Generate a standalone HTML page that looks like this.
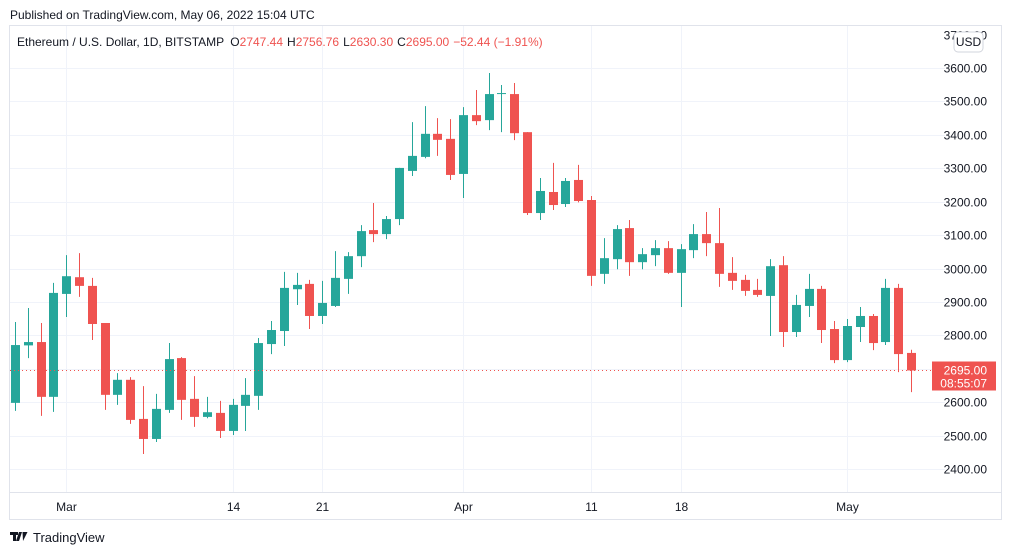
<!DOCTYPE html>
<html><head><meta charset="utf-8"><style>
body{margin:0;background:#fff;width:1012px;height:555px;overflow:hidden;font-family:"Liberation Sans",sans-serif}
svg{position:absolute;left:0;top:0}
</style></head><body>
<svg id="c" width="1012" height="555">
<text x="10" y="19" font-size="12" fill="#131722">Published on TradingView.com, May 06, 2022 15:04 UTC</text>
<rect x="9.5" y="25.5" width="992" height="494" fill="none" stroke="#e0e3eb"/>
<line x1="9.5" y1="492.5" x2="1001.5" y2="492.5" stroke="#e0e3eb"/>
<g id="grid"></g><g id="candles"></g>
<text x="17" y="46" font-size="12" fill="#131722">Ethereum / U.S. Dollar, 1D, BITSTAMP <tspan dx="3">O</tspan><tspan fill="#ef5350">2747.44</tspan><tspan dx="4">H</tspan><tspan fill="#ef5350">2756.76</tspan><tspan dx="4">L</tspan><tspan fill="#ef5350">2630.30</tspan><tspan dx="4">C</tspan><tspan fill="#ef5350">2695.00</tspan><tspan dx="4" fill="#ef5350">−52.44 (−1.91%)</tspan></text>
<rect x="954" y="32" width="29" height="20" rx="4" fill="#fff" stroke="#d1d4dc"/>
<text x="968.5" y="46" font-size="12" text-anchor="middle" fill="#131722">USD</text>
<g id="tv-logo"><path d="M10 532h8v3h-2v6h-3v-6h-3z M19 532h3l-3 9h-3z M22.5 532h5l-4.5 9" fill="#131722"/><text x="33" y="542" font-size="13" fill="#131722">TradingView</text></g>
</svg>
<script>
const dates=[];
const opens=[2598,2770,2780,2616,2924,2974,2948,2837,2622,2667,2550,2490,2577,2732,2610,2556,2568,2514,2589,2619,2774,2813,2938,2954,2858,2888,2969,3037,3115,3103,3148,3292,3334,3403,3388,3283,3459,3444,3522,3522,3408,3166,3229,3193,3265,3205,2984,3028,3121,3019,3040,3061,2987,3055,3103,3076,2987,2966,2936,2918,3010,2810,2888,2939,2819,2726,2825,2858,2780,2942,2747.44];
const highs=[2840,2882,2837,2957,3040,3046,2972,2837,2687,2675,2648,2625,2777,2735,2678,2616,2604,2610,2672,2792,2843,2990,2987,2966,2963,3052,3049,3130,3196,3157,3301,3438,3486,3450,3447,3483,3534,3585,3549,3555,3408,3271,3316,3271,3310,3217,3091,3130,3145,3061,3085,3082,3073,3133,3169,3181,3034,2981,2969,3028,3037,2921,2984,2948,2843,2849,2885,2864,2969,2954,2756.76];
const lows=[2574,2732,2559,2571,2855,2915,2786,2577,2592,2535,2445,2481,2568,2547,2526,2552,2493,2502,2514,2577,2744,2768,2891,2819,2834,2885,2924,3004,3079,3088,3130,3277,3330,3337,3265,3211,3429,3414,3408,3384,3160,3145,3175,3184,3198,2948,2954,2998,2978,2998,3007,2984,2885,3031,3037,2945,2936,2918,2915,2798,2765,2795,2855,2777,2717,2720,2780,2756,2771,2690,2630.30];
const closes=[2771,2780,2616,2927,2977,2948,2834,2622,2667,2547,2490,2580,2729,2607,2556,2570,2514,2592,2622,2777,2816,2942,2951,2858,2897,2972,3037,3112,3103,3148,3301,3337,3403,3385,3280,3459,3441,3522,3525,3405,3166,3232,3190,3262,3202,2978,3031,3118,3019,3043,3061,2987,3058,3103,3076,2984,2963,2933,2921,3007,2810,2891,2939,2816,2726,2828,2858,2777,2942,2744,2695];
const priceTicks=[2400,2500,2600,2700,2800,2900,3000,3100,3200,3300,3400,3500,3600,3700];
const timeLabels=["Mar","14","21","Apr","11","18","May"];
const timeIdx=[4,17,24,35,45,52,65];
const lastPrice=2695, countdown="08:55:07";
const y=p=>68+(3600-p)*0.3342, x=i=>15+i*12.8;
const NS="http://www.w3.org/2000/svg";
function mk(t,a,parent){const e=document.createElementNS(NS,t);for(const k in a)e.setAttribute(k,a[k]);parent.appendChild(e);return e;}
const g=document.getElementById('grid'), cg=document.getElementById('candles'), svg=document.getElementById('c');
priceTicks.forEach(p=>{
 const yy=Math.round(y(p))+0.5;
 if(p<3700){const l=mk('line',{x1:10,x2:945,y1:yy,y2:yy,stroke:'#f0f3fa'},g);
 
 }
 const t=mk('text',{x:987,y:yy+4,'font-size':12,'text-anchor':'end',fill:'#131722'},g);t.textContent=p.toFixed(2);
 
 
});
timeIdx.forEach((i,k)=>{
 const xx=Math.round(x(i))+0.5;
 const l=mk('line',{x1:xx,x2:xx,y1:26,y2:492,stroke:'#f0f3fa'},g);
 
 
 const t=mk('text',{x:xx,y:511,'font-size':12,'text-anchor':'middle',fill:'#131722'},g);t.textContent=timeLabels[k];
 
 
});
opens.forEach((o,i)=>{
 const c=closes[i],col=c>=o?'#26a69a':'#ef5350',cx=Math.round(x(i));
 const w=mk('line',{x1:cx+0.5,x2:cx+0.5,y1:y(highs[i]),y2:y(lows[i]),stroke:col,'stroke-width':1},cg);
 
 
 const top=y(Math.max(o,c)),h=Math.max(1,y(Math.min(o,c))-top);
 const b=mk('rect',{x:cx-4,y:top,width:9,height:h,fill:col},cg);
 
 
});
const ly=Math.round(y(lastPrice))+0.5;
const pl=mk('line',{x1:10,x2:945,y1:ly,y2:ly,stroke:'#ef5350','stroke-dasharray':'1 3'},svg);


const bx=mk('rect',{x:932,y:ly-9,width:64,height:29,fill:'#ef5350'},svg);


const t1=mk('text',{x:987,y:ly+4,'font-size':12,'text-anchor':'end',fill:'#fff'},svg);t1.textContent=lastPrice.toFixed(2);
const t2=mk('text',{x:987,y:ly+17,'font-size':12,'text-anchor':'end',fill:'#fff'},svg);t2.textContent=countdown;
</script>
</body></html>
